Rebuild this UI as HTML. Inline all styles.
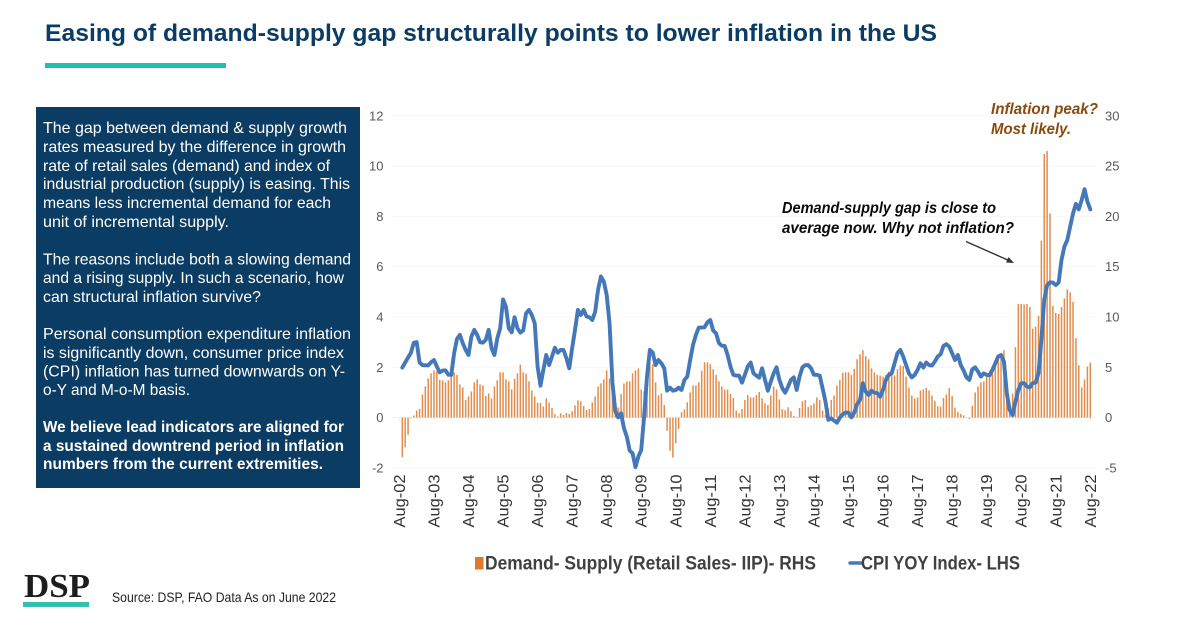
<!DOCTYPE html>
<html lang="en">
<head>
<meta charset="utf-8">
<title>Easing of demand-supply gap</title>
<style>
html,body{margin:0;padding:0;background:#fff;width:1200px;height:628px;overflow:hidden}
svg{display:block;font-family:"Liberation Sans",sans-serif}
.panel text{font-size:16px;fill:#fff}
.panel .b{font-weight:bold}
.note{font-size:16px;font-weight:bold;font-style:italic}
.tick{font-size:13px;fill:#595959}
.xl{font-size:15.5px;fill:#333}
.leg{font-size:19px;fill:#404040;font-weight:bold}
</style>
</head>
<body>
<svg id="page" width="1200" height="628" viewBox="0 0 1200 628" xmlns="http://www.w3.org/2000/svg">
  <text x="45" y="41" font-size="24" font-weight="bold" fill="#0b3c63" textLength="892" lengthAdjust="spacingAndGlyphs">Easing of demand-supply gap structurally points to lower inflation in the US</text>
  <rect x="45" y="63" width="181" height="5" fill="#1fc0ad"/>

  <g class="panel">
    <rect x="36" y="107" width="324" height="381" fill="#0b3c63"/>
    <text x="43" y="133" textLength="304" lengthAdjust="spacingAndGlyphs">The gap between demand &amp; supply growth</text>
    <text x="43" y="152" textLength="303" lengthAdjust="spacingAndGlyphs">rates measured by the difference in growth</text>
    <text x="43" y="171" textLength="287" lengthAdjust="spacingAndGlyphs">rate of retail sales (demand) and index of</text>
    <text x="43" y="189" textLength="307" lengthAdjust="spacingAndGlyphs">industrial production (supply) is easing. This</text>
    <text x="43" y="208" textLength="288" lengthAdjust="spacingAndGlyphs">means less incremental demand for each</text>
    <text x="43" y="227" textLength="186" lengthAdjust="spacingAndGlyphs">unit of incremental supply.</text>
    <text x="43" y="264.5" textLength="308" lengthAdjust="spacingAndGlyphs">The reasons include both a slowing demand</text>
    <text x="43" y="283" textLength="301" lengthAdjust="spacingAndGlyphs">and a rising supply. In such a scenario, how</text>
    <text x="43" y="302" textLength="218" lengthAdjust="spacingAndGlyphs">can structural inflation survive?</text>
    <text x="43" y="339" textLength="308" lengthAdjust="spacingAndGlyphs">Personal consumption expenditure inflation</text>
    <text x="43" y="358" textLength="301" lengthAdjust="spacingAndGlyphs">is significantly down, consumer price index</text>
    <text x="43" y="376.5" textLength="302" lengthAdjust="spacingAndGlyphs">(CPI) inflation has turned downwards on Y-</text>
    <text x="43" y="395" textLength="147" lengthAdjust="spacingAndGlyphs">o-Y and M-o-M basis.</text>
    <text class="b" x="43" y="432" textLength="301" lengthAdjust="spacingAndGlyphs">We believe lead indicators are aligned for</text>
    <text class="b" x="43" y="451" textLength="301" lengthAdjust="spacingAndGlyphs">a sustained downtrend period in inflation</text>
    <text class="b" x="43" y="469" textLength="280" lengthAdjust="spacingAndGlyphs">numbers from the current extremities.</text>
  </g>

  <g id="chart"></g>

  <text class="note" x="991" y="114" fill="#8a4a0e" textLength="107" lengthAdjust="spacingAndGlyphs">Inflation peak?</text>
  <text class="note" x="991" y="134" fill="#8a4a0e" textLength="80" lengthAdjust="spacingAndGlyphs">Most likely.</text>
  <text class="note" x="782" y="213" fill="#0a0a0a" textLength="214" lengthAdjust="spacingAndGlyphs">Demand-supply gap is close to</text>
  <text class="note" x="782" y="233" fill="#0a0a0a" textLength="232" lengthAdjust="spacingAndGlyphs">average now. Why not inflation?</text>
  <g>
    <line x1="966" y1="241.5" x2="1010" y2="261" stroke="#333" stroke-width="1.4"/>
    <polygon points="1014,263 1006,262.5 1008.5,257" fill="#333"/>
  </g>

  <g>
    <rect x="475" y="557" width="8.5" height="12.5" fill="#e07a2a"/>
    <text class="leg" x="485" y="569.5" textLength="331" lengthAdjust="spacingAndGlyphs">Demand- Supply (Retail Sales- IIP)- RHS</text>
    <line x1="850" y1="563" x2="861" y2="563" stroke="#4478b8" stroke-width="3.4" stroke-linecap="round"/>
    <text class="leg" x="861" y="569.5" textLength="159" lengthAdjust="spacingAndGlyphs">CPI YOY Index- LHS</text>
  </g>

  <g>
    <text x="24" y="597" font-family="'Liberation Serif',serif" font-size="34" font-weight="bold" fill="#1c1c1c" textLength="66" lengthAdjust="spacingAndGlyphs">DSP</text>
    <rect x="23" y="602" width="66" height="5" fill="#35bfb0"/>
  </g>
  <text x="112" y="602" font-size="14" fill="#222" textLength="224" lengthAdjust="spacingAndGlyphs">Source: DSP, FAO Data As on June 2022</text>
</svg>

<script>
var leftTicks = [-2, 0, 2, 4, 6, 8, 10, 12];
var rightTicks = [-5, 0, 5, 10, 15, 20, 25, 30];
var xLabels = ["Aug-02","Aug-03","Aug-04","Aug-05","Aug-06","Aug-07","Aug-08","Aug-09","Aug-10","Aug-11","Aug-12","Aug-13","Aug-14","Aug-15","Aug-16","Aug-17","Aug-18","Aug-19","Aug-20","Aug-21","Aug-22"];

// Demand-Supply gap, right axis, monthly
var demandSupply = [
-3.94,-2.95,-1.72,-0.07,0.2,0.7,0.86,2.3,3.1,3.9,
4.4,4.7,4.6,3.75,3.7,3.5,3.7,4.15,4.5,4.25,
3.3,3.0,1.75,2.1,2.6,3.5,3.8,3.3,3.2,2.15,
2.4,1.9,3.1,3.7,4.5,4.5,3.8,3.6,2.8,3.85,
4.4,5.26,4.5,4.37,3.6,2.7,2.1,1.46,1.46,1.1,
1.9,1.5,0.96,0.33,0.1,0.43,0.26,0.46,0.36,0.63,
1.22,1.72,1.62,1.16,0.76,0.86,1.5,2.1,3.1,3.4,
3.8,4.7,3.9,2.8,2.0,1.0,2.35,3.4,3.6,3.6,
4.4,4.7,4.9,2.8,2.6,4.5,5.4,5.3,3.5,2.2,
2.4,1.25,-1.32,-3.3,-3.97,-2.55,-1.13,0.53,0.83,1.52,
2.5,3.2,3.2,3.5,4.65,5.5,5.5,5.3,4.8,4.24,
3.6,3.1,2.8,2.8,2.35,1.95,0.7,0.43,0.86,1.75,
2.25,2.0,2.0,2.25,2.55,1.92,1.42,1.26,2.2,3.1,
2.8,1.82,0.83,0.73,1.03,0.63,0.17,0.07,0.96,1.62,
1.75,1.06,1.22,1.42,2.0,1.75,0.7,0.3,0.93,1.75,
2.2,3.2,3.75,4.45,4.5,4.5,4.25,4.85,5.8,6.3,
6.7,6.1,5.8,4.9,4.5,4.25,4.17,4.07,4.24,4.57,
4.24,4.2,4.8,5.17,5.13,4.07,3.0,2.2,1.9,2.0,
2.7,2.8,2.95,2.7,2.2,1.66,1.13,1.1,1.95,2.3,
2.95,2.15,1.0,0.56,0.36,0.23,-0.03,-0.13,1.16,2.5,
3.1,3.5,3.6,4.07,4.65,4.9,5.3,5.8,6.2,6.7,
3,0.8,2.4,7,11.3,11.3,11.25,11.3,11,8.85,
9.05,10.1,17.6,26.2,26.5,20.3,11.1,10.4,10.3,11,
11.85,12.75,12.45,11.5,7.9,5.2,3.0,3.8,5.07,5.46
];

// CPI YoY, left axis, monthly
var cpiYoy = [
1.99,2.19,2.39,2.58,2.98,3.0,2.19,2.09,2.08,2.08,
2.2,2.29,2.03,1.8,1.87,1.88,1.7,1.7,2.56,3.13,
3.29,2.96,2.69,2.49,3.22,3.49,3.29,3.0,2.98,3.09,
3.49,2.76,2.49,3.15,3.55,4.7,4.41,3.55,3.39,3.99,
3.55,3.38,3.46,4.15,4.28,4.08,3.75,2.03,1.27,1.9,
2.49,2.09,2.43,2.78,2.58,2.69,2.69,2.36,1.96,2.76,
3.49,4.28,4.08,4.28,4.02,3.99,3.88,4.21,5.08,5.61,
5.41,4.88,3.75,1.4,0.25,0.01,0.17,-0.42,-0.76,-1.31,
-1.42,-1.97,-1.55,-1.29,0.04,1.63,2.69,2.58,2.09,2.29,
2.16,1.96,1.07,1.19,1.07,1.1,1.19,1.1,1.5,1.63,
2.29,2.89,3.29,3.58,3.58,3.59,3.79,3.88,3.46,3.35,
2.96,2.86,2.85,2.49,2.03,1.7,1.67,1.67,1.39,1.7,
2.03,2.19,1.76,1.67,1.59,1.96,1.5,1.07,1.43,1.76,
2.0,1.5,1.17,0.99,1.23,1.5,1.6,1.1,1.63,2.0,
2.09,2.09,1.96,1.7,1.7,1.67,1.17,0.64,-0.09,-0.03,
-0.12,-0.2,0,0.13,0.2,0.2,0.01,0.2,0.54,0.7,
1.37,1.03,0.9,1.07,0.99,0.97,0.83,1.1,1.5,1.7,
1.76,2.16,2.56,2.69,2.43,2.09,1.76,1.6,1.7,1.9,
2.16,1.99,2.19,2.09,2.07,2.23,2.43,2.52,2.85,2.92,
2.82,2.56,2.29,2.49,2.09,1.87,1.6,1.5,1.92,2.0,
1.83,1.63,1.76,1.7,1.68,1.9,2.16,2.43,2.49,2.23,
0.97,0.3,0.1,0.64,1.1,1.37,1.37,1.23,1.2,1.37,
1.39,1.76,3.09,4.68,5.27,5.38,5.37,5.27,5.37,6.27,
6.8,7.06,7.59,8.12,8.5,8.28,8.65,9.08,8.59,8.28
];

var NS = "http://www.w3.org/2000/svg";
var chart = document.getElementById("chart");
function xAt(i) { return 402.3 + i * (1090.3 - 402.3) / 239; }
function yLeft(v) { return 417.6 - v * 25.15; }
function yRight(v) { return 417.6 - v * 10.06; }
function make(tag, attrs, parent) {
  var el = document.createElementNS(NS, tag);
  for (var k in attrs) { el.setAttribute(k, attrs[k]); }
  (parent || chart).appendChild(el);
  return el;
}

leftTicks.forEach(function (t) {
  var g = make("line", { x1: 392, x2: 1096, y1: yLeft(t), y2: yLeft(t), stroke: t === 0 ? "#eeeeee" : "#f7f7f7", "stroke-width": 1 });
  
  
  var lab = make("text", { x: 383.5, y: yLeft(t) + 4.5, "text-anchor": "end", "class": "tick" });
  
  
  lab.textContent = t;
});
rightTicks.forEach(function (t) {
  var lab = make("text", { x: 1105, y: yRight(t) + 4.5, "class": "tick" });
  
  
  lab.textContent = t;
});

xLabels.forEach(function (name, k) {
  var x = xAt(12 * k - 1);
  var tk = make("line", { x1: x, x2: x, y1: 417.6, y2: 421, stroke: "#eeeeee", "stroke-width": 1 });
  
  
  var lab = make("text", { x: 0, y: 0, "class": "xl", transform: "translate(" + (x + 5.5) + ",527.5) rotate(-90)", textLength: 53, lengthAdjust: "spacingAndGlyphs" });
  
  
  lab.textContent = name;
});

demandSupply.forEach(function (v, i) {
  var y = yRight(v), y0 = yRight(0);
  var bar = make("rect", { x: xAt(i) - 0.75, y: Math.min(y, y0), width: 1.5, height: Math.abs(y - y0), fill: "#e08d4e" });
  
  
});

var pts = cpiYoy.map(function (v, i) { return xAt(i).toFixed(2) + "," + yLeft(v).toFixed(2); }).join(" ");
var cpiLine = make("polyline", { points: pts, fill: "none", stroke: "#4478b8", "stroke-width": 3.9, "stroke-linejoin": "round", "stroke-linecap": "round" });


</script>
</body>
</html>
